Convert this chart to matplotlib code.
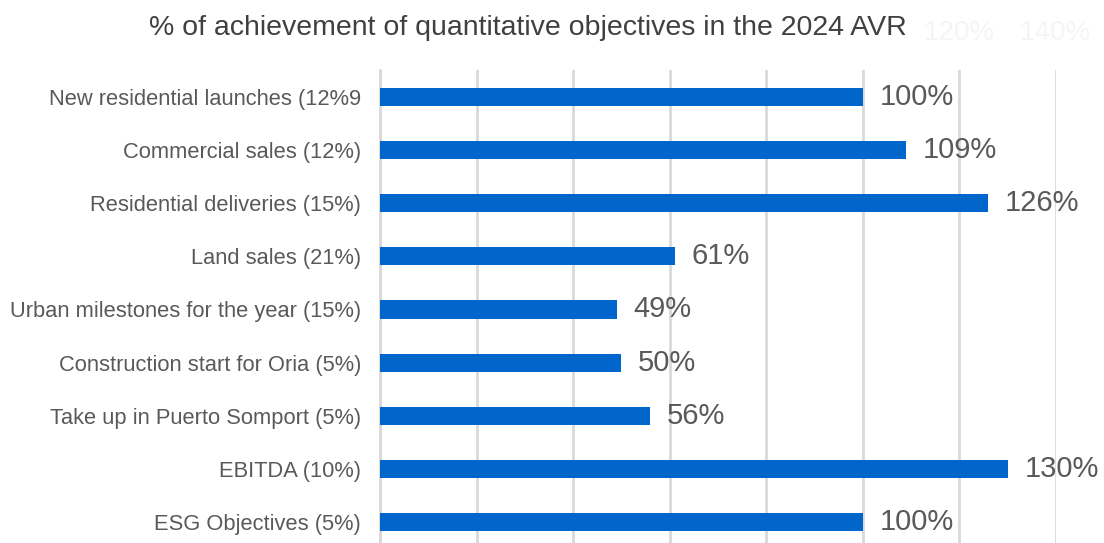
import matplotlib.pyplot as plt

categories = [
    "New residential launches (12%9",
    "Commercial sales (12%)",
    "Residential deliveries (15%)",
    "Land sales (21%)",
    "Urban milestones for the year (15%)",
    "Construction start for Oria (5%)",
    "Take up in Puerto Somport (5%)",
    "EBITDA (10%)",
    "ESG Objectives (5%)",
]
achievement = [100, 109, 126, 61, 49, 50, 56, 130, 100]
xticks = [0, 20, 40, 60, 80, 100, 120, 140]
ghost_ticks = [120, 140]

plt.rcParams["font.family"] = ["Liberation Sans", "DejaVu Sans"]

fig = plt.figure(figsize=(11.04, 5.43), dpi=100)
ax = fig.add_axes([380 / 1104, -5.6 / 543, (1056 - 380) / 1104, (548.6 - 70.4) / 543])

ypos = list(range(len(categories)))
ax.barh(ypos, achievement, height=0.34, color="#0066CC", zorder=3)
ax.set_ylim(len(categories) - 0.5, -0.5)
ax.set_xlim(0, 140)
ax.set_xticks(xticks)
ax.tick_params(axis="x", length=0, labelbottom=False)
ax.grid(axis="x", color="#d9d9d9", linewidth=2, zorder=0)

ax.set_yticks(ypos)
ax.set_yticklabels(categories, fontsize=15.75, color="#595959")
ax.tick_params(axis="y", length=0, pad=13.5)

for s in ["top", "right", "bottom"]:
    ax.spines[s].set_visible(False)
ax.spines["left"].set_color("#d9d9d9")
ax.spines["left"].set_linewidth(2)

for y, v in zip(ypos, achievement):
    ax.annotate(f"{v}%", (v, y), xytext=(12, 0), textcoords="offset points",
                va="center", ha="left", fontsize=21, color="#595959")

# faint leftover tick labels above the plot
for t in ghost_ticks:
    ax.annotate(f"{t}%", (t, 1), xycoords=("data", "axes fraction"),
                xytext=(0, 27), textcoords="offset points",
                ha="center", va="center", fontsize=20, color="#f5f5f5")

fig.text(528 / 1104, 1 - 28 / 543, "% of achievement of quantitative objectives in the 2024 AVR",
         ha="center", va="center", fontsize=20.5, color="#404040")

fig.savefig("out.png", dpi=100)
